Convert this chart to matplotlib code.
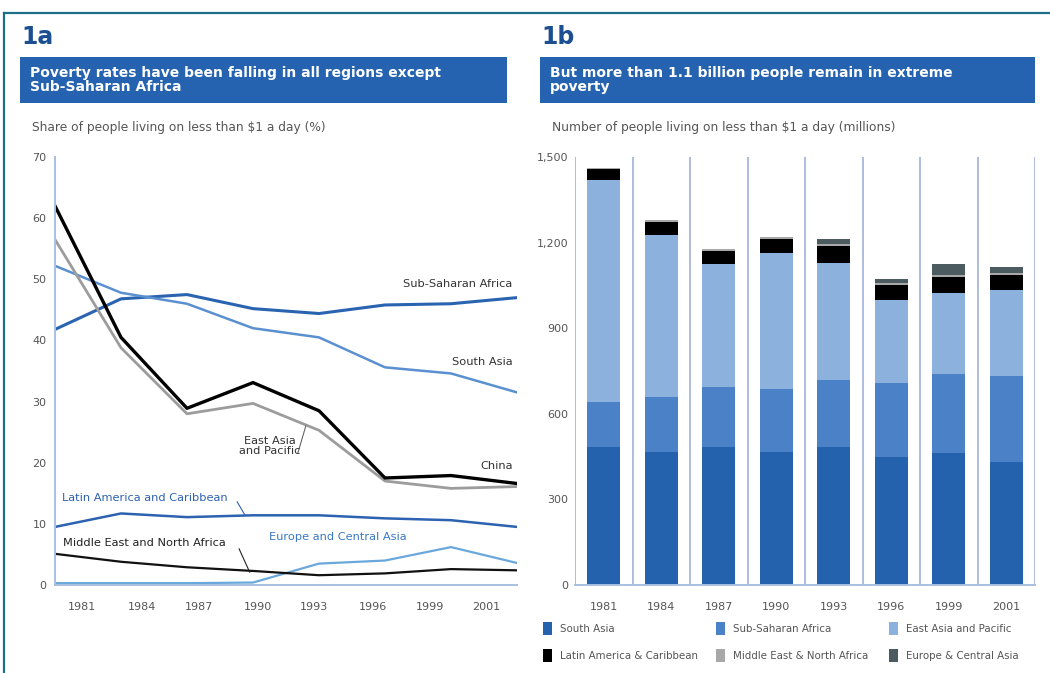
import numpy as np
import matplotlib
matplotlib.use("Agg")
import matplotlib.pyplot as plt
from matplotlib.patches import Rectangle, Patch
from matplotlib.lines import Line2D

# ---- data: panel 1a, share of people below $1 a day (%)
years = ["1981", "1984", "1987", "1990", "1993", "1996", "1999", "2001"]
ssa_rate = [41.8, 46.8, 47.5, 45.2, 44.4, 45.8, 46.0, 47.0]
sa_rate = [52.2, 47.8, 46.0, 42.0, 40.5, 35.6, 34.6, 31.5]
china_rate = [62.0, 40.5, 28.9, 33.1, 28.5, 17.5, 17.9, 16.6]
eap_rate = [56.5, 38.8, 28.0, 29.7, 25.3, 17.0, 15.8, 16.1]
lac_rate = [9.5, 11.7, 11.1, 11.4, 11.4, 10.9, 10.6, 9.5]
mena_rate = [5.1, 3.8, 2.9, 2.3, 1.6, 1.9, 2.6, 2.4]
eca_rate = [0.3, 0.3, 0.3, 0.4, 3.5, 4.0, 6.2, 3.6]

# ---- data: panel 1b, number of people below $1 a day (millions)
sa_n = [483, 466, 483, 466, 483, 448, 462, 430]
ssa_n = [157, 192, 210, 220, 234, 259, 276, 301]
eap_n = [778, 567, 431, 476, 413, 291, 284, 302]
lac_n = [40, 48, 48, 52, 58, 54, 56, 52]
mena_n = [4, 5, 4, 4, 6, 6, 10, 8]
eca_n = [1, 1, 1, 2, 18, 15, 36, 20]

BLUE_DARK = "#2462ae"
BLUE_MID = "#4a81c7"
BLUE_LIGHT = "#8cb1dd"
GRID = "#a9b6da"
TXT = "#555555"

fig = plt.figure(figsize=(10.5, 6.73), dpi=100)
W, H = 1050.0, 673.0

def fx(px):
    return px / W

def fy(py):
    return 1 - py / H

# frame lines (top and left)
fig.add_artist(Line2D([fx(4), 1], [fy(13), fy(13)], color="#1d6e86", lw=1.6))
fig.add_artist(Line2D([fx(4), fx(4)], [fy(13), 0], color="#1d6e86", lw=1.6))

# headers
for lab, x0, x1, title, sub in [
    ("1a", 20, 507, "Poverty rates have been falling in all regions except\nSub-Saharan Africa",
     "Share of people living on less than \\$1 a day (%)"),
    ("1b", 540, 1035, "But more than 1.1 billion people remain in extreme\npoverty",
     "Number of people living on less than \\$1 a day (millions)"),
]:
    fig.text(fx(x0 + 1), fy(37), lab, fontsize=17, fontweight="bold", color="#1b4f92",
             va="center", ha="left")
    fig.add_artist(Rectangle((fx(x0), fy(103)), fx(x1 - x0), (103 - 57) / H,
                             facecolor="#2563b0", edgecolor="none"))
    fig.text(fx(x0 + 10), fy(80), title, fontsize=10, fontweight="bold", color="white",
             va="center", ha="left", linespacing=1.0)
    fig.text(fx(x0 + 12), fy(128), sub, fontsize=8.8, color=TXT, va="center", ha="left")

# ---- panel 1a
ax = fig.add_axes([fx(55), fy(585), fx(517 - 55), (585 - 157) / H])
x = np.arange(len(years))
ax.plot(x, ssa_rate, color="#2a64b1", lw=2.2)
ax.plot(x, sa_rate, color="#5b90d0", lw=1.8)
ax.plot(x, eap_rate, color="#9c9c9c", lw=2.0)
ax.plot(x, china_rate, color="black", lw=2.4)
ax.plot(x, lac_rate, color="#2d62b0", lw=1.8)
ax.plot(x, eca_rate, color="#6aa8dc", lw=1.6)
ax.plot(x, mena_rate, color="#111111", lw=1.6)
ax.set_xlim(0, 7)
ax.set_ylim(0, 70)
ax.set_yticks(range(0, 71, 10))
ax.set_xticks([0.41, 1.32, 2.18, 3.07, 3.93, 4.82, 5.68, 6.54])
ax.set_xticklabels(years)
ax.tick_params(length=0, labelsize=8, colors=TXT)
ax.tick_params(axis="x", pad=12)
ax.tick_params(axis="y", pad=6)
for s in ["top", "right"]:
    ax.spines[s].set_visible(False)
for s in ["left", "bottom"]:
    ax.spines[s].set_color("#a9c0e2")
    ax.spines[s].set_linewidth(1.4)

fs = 8.2
ax.text(6.93, 49.3, "Sub-Saharan Africa", ha="right", va="center", fontsize=fs, color="#333")
ax.text(6.93, 36.4, "South Asia", ha="right", va="center", fontsize=fs, color="#333")
ax.text(3.25, 22.8, "East Asia\nand Pacific", ha="center", va="center", fontsize=fs,
        color="#333", linespacing=1.0)
ax.plot([3.68, 3.8], [21.6, 26.0], color="#666", lw=0.8)
ax.text(6.93, 19.4, "China", ha="right", va="center", fontsize=fs, color="#333")
ax.text(0.11, 14.2, "Latin America and Caribbean", ha="left", va="center", fontsize=fs, color="#2d62b0")
ax.plot([2.76, 2.88], [13.6, 11.4], color="#2d62b0", lw=0.8)
ax.text(0.12, 6.9, "Middle East and North Africa", ha="left", va="center", fontsize=fs, color="#222")
ax.plot([2.79, 2.95], [5.9, 2.1], color="#222", lw=0.8)
ax.text(3.24, 7.8, "Europe and Central Asia", ha="left", va="center", fontsize=fs, color="#3a78c4")

# ---- panel 1b
bx = fig.add_axes([fx(575), fy(585), fx(1035 - 575), (585 - 157) / H])
series = [
    ("South Asia", sa_n, BLUE_DARK),
    ("Sub-Saharan Africa", ssa_n, BLUE_MID),
    ("East Asia and Pacific", eap_n, BLUE_LIGHT),
    ("Latin America & Caribbean", lac_n, "black"),
    ("Middle East & North Africa", mena_n, "#a8a8a8"),
    ("Europe & Central Asia", eca_n, "#4b5b5f"),
]
bottom = np.zeros(len(years))
handles = {}
for name, vals, col in series:
    bx.bar(x, vals, width=0.57, bottom=bottom, color=col, edgecolor="none", zorder=2)
    bottom += np.array(vals)
    handles[name] = Patch(facecolor=col, edgecolor="none")
bx.set_xlim(-0.5, 7.5)
bx.set_ylim(0, 1500)
bx.set_yticks(range(0, 1501, 300))
bx.set_yticklabels(["0", "300", "600", "900", "1,200", "1,500"])
bx.set_xticks(x)
bx.set_xticklabels(years)
for g in np.arange(-0.5, 7.6, 1.0):
    bx.axvline(g, color=GRID, lw=1.3, zorder=1)
bx.tick_params(length=0, labelsize=8, colors=TXT)
bx.tick_params(axis="x", pad=12)
bx.tick_params(axis="y", pad=5)
for s in ["top", "right", "left"]:
    bx.spines[s].set_visible(False)
bx.spines["bottom"].set_color("#a9c0e2")
bx.spines["bottom"].set_linewidth(1.4)

# legend: three columns, two rows, placed one column at a time
columns = [
    (543, ["South Asia", "Latin America & Caribbean"]),
    (716, ["Sub-Saharan Africa", "Middle East & North Africa"]),
    (889, ["East Asia and Pacific", "Europe & Central Asia"]),
]
for x0, names in columns:
    fig.legend([handles[n] for n in names], names, ncol=1, frameon=False,
               loc="upper left", bbox_to_anchor=(fx(x0), fy(622)),
               fontsize=7.4, handlelength=0.9, handleheight=1.6,
               handletextpad=0.8, labelspacing=1.3, borderaxespad=0,
               borderpad=0, labelcolor=TXT)

fig.savefig("out.png", dpi=100, facecolor="white")
